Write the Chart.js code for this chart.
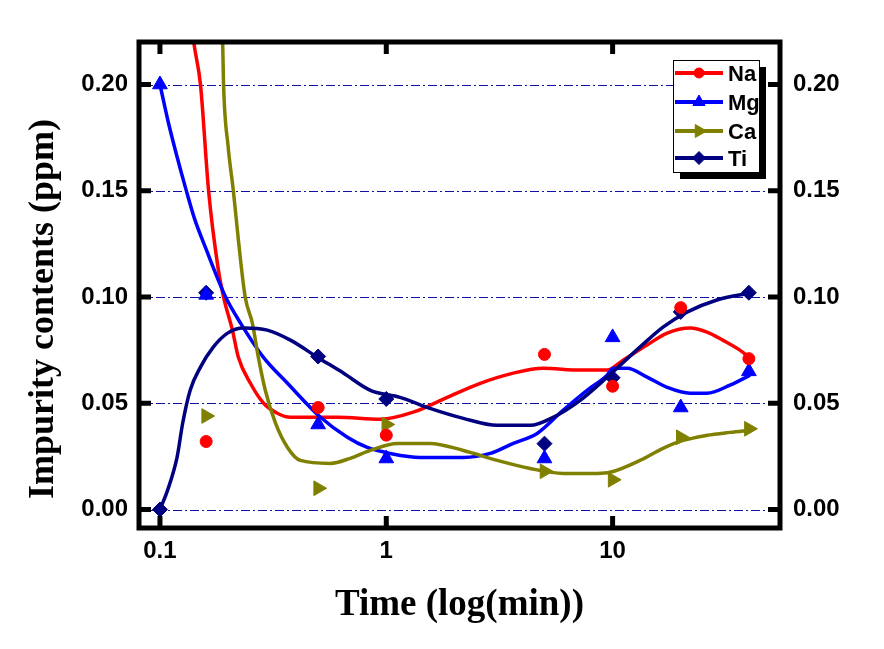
<!DOCTYPE html>
<html><head><meta charset="utf-8">
<script src="https://cdn.jsdelivr.net/npm/chart.js@4.4.0/dist/chart.umd.min.js"></script>
<style>html,body{margin:0;padding:0;background:#fff;}#wrap{width:884px;height:649px;}</style>
</head><body><div id="wrap"><canvas id="c" width="884" height="649"></canvas></div>
<script>
// ---- data ----
const seriesNames = ['Na', 'Mg', 'Ca', 'Ti'];
const seriesColors = ['#FF0000', '#0000FF', '#808000', '#000080'];
const sampleTimes = [0.1, 0.16, 0.5, 1, 5, 10, 20, 40];
const naPoints = [null, 0.032, 0.048, 0.035, 0.073, 0.058, 0.095, 0.071];
const mgPoints = [0.200, 0.101, 0.040, 0.024, 0.024, 0.081, 0.048, 0.065];
const caPoints = [null, 0.044, 0.010, 0.040, 0.018, 0.014, 0.034, 0.038];
const tiPoints = [0.000, 0.102, 0.072, 0.052, 0.031, 0.062, 0.093, 0.102];

// smoothed fit curves
const naFitX = [0.136,0.141,0.151,0.164,0.181,0.191,0.209,0.222,0.251,0.287,0.330,0.377,0.608,0.942,1.316,1.859,2.60,3.64,4.93,7.19,9.46,11.12,14.2,17.4,22.0,26.1,30.7,36.5,40.5];
const naFitY = [0.235,0.220,0.200,0.150,0.113,0.100,0.0844,0.0717,0.0594,0.0500,0.0453,0.0434,0.0434,0.0425,0.0458,0.0528,0.0594,0.0642,0.0665,0.0656,0.0656,0.0703,0.0774,0.0830,0.0854,0.0835,0.0797,0.0750,0.0712];
const mgFitX = [0.1,0.109,0.119,0.130,0.142,0.162,0.181,0.195,0.227,0.286,0.366,0.512,0.673,0.824,1.04,1.41,2.19,2.88,3.64,4.64,6.04,7.71,9.46,10.05,11.6,14.2,17.4,22.0,26.1,33.0,40.5];
const mgFitY = [0.200,0.182,0.166,0.151,0.137,0.121,0.108,0.100,0.0877,0.0717,0.0594,0.0434,0.0340,0.0292,0.0264,0.0245,0.0245,0.0264,0.0311,0.0358,0.0467,0.0561,0.0632,0.0665,0.0665,0.0623,0.0575,0.0547,0.0547,0.0585,0.0632];
const caFitX = [0.188,0.191,0.200,0.211,0.222,0.238,0.256,0.272,0.292,0.324,0.366,0.417,0.566,0.693,0.850,1.12,1.56,2.19,3.09,4.32,6.04,8.55,9.75,13.2,16.7,20.5,26.1,33.0,40.5];
const caFitY = [0.235,0.200,0.171,0.150,0.127,0.100,0.0877,0.0717,0.0561,0.0406,0.0292,0.0231,0.0217,0.0241,0.0278,0.0311,0.0311,0.0278,0.0231,0.0193,0.0170,0.0170,0.0175,0.0231,0.0288,0.0325,0.0349,0.0363,0.0373];
const tiFitX = [0.1,0.108,0.119,0.126,0.136,0.151,0.172,0.199,0.234,0.298,0.377,0.496,0.646,0.850,1.15,1.56,2.19,3.09,4.32,5.46,7.19,9.46,13.2,16.7,21.3,28.9,40.5];
const tiFitY = [0,0.0090,0.0245,0.0406,0.0561,0.0670,0.0764,0.0830,0.0854,0.0844,0.0797,0.0717,0.0642,0.0561,0.0528,0.0476,0.0429,0.0396,0.0396,0.0434,0.0514,0.0623,0.0764,0.0858,0.0929,0.0986,0.1019];

const xTickValues = [0.1, 1, 10];
const xTickLabels = ['0.1', '1', '10'];
const yTickValues = [0, 0.05, 0.10, 0.15, 0.20];
const yTickLabels = ['0.00', '0.05', '0.10', '0.15', '0.20'];
const xTitle = 'Time (log(min))';
const yTitle = 'Impurity contents (ppm)';

// ---- styles ----
const pointStyles = ['circle', 'triangle', 'triangle', 'rectRot'];
const pointRotations = [0, 0, 90, 0];
const pointRadii = [6, 8.5, 8.5, 7.5];
const legendRadii = [5, 7, 7.5, 6.5];

const pointSets = [naPoints, mgPoints, caPoints, tiPoints];
const fitSets = [[naFitX, naFitY], [mgFitX, mgFitY], [caFitX, caFitY], [tiFitX, tiFitY]];

const datasets = [];
pointSets.forEach((vals, i) => {
  datasets.push({
    label: seriesNames[i] + ' data',
    data: sampleTimes.map((t, k) => ({x: t, y: vals[k]})).filter(p => p.y !== null),
    showLine: false,
    pointStyle: pointStyles[i],
    rotation: pointRotations[i],
    pointRadius: pointRadii[i],
    backgroundColor: seriesColors[i],
    borderColor: seriesColors[i],
    pointBorderWidth: 1,
    order: 0
  });
});
fitSets.forEach((f, i) => {
  datasets.push({
    label: seriesNames[i],
    data: f[0].map((x, k) => ({x: x, y: f[1][k]})),
    showLine: true,
    pointRadius: 0,
    borderColor: seriesColors[i],
    borderWidth: 3.5,
    cubicInterpolationMode: 'monotone',
    tension: 0.4,
    fill: false,
    order: 1 + (3 - i)
  });
});

const tickFont = {family: '"Liberation Sans", Arial, sans-serif', size: 24, weight: 'bold'};

const decorPlugin = {
  id: 'decor',
  beforeDatasetsDraw(chart) {
    const {ctx, chartArea: a, scales} = chart;
    ctx.save();
    ctx.strokeStyle = '#1010A8';
    ctx.lineWidth = 1;
    ctx.setLineDash([9, 3, 2, 3]);
    yTickValues.forEach(v => {
      const y = Math.round(scales.y.getPixelForValue(v)) + 0.5;
      ctx.beginPath(); ctx.moveTo(a.left, y); ctx.lineTo(a.right, y); ctx.stroke();
    });
    ctx.restore();
  },
  afterDraw(chart) {
    const {ctx, chartArea: a, scales} = chart;
    ctx.save();
    // frame
    ctx.strokeStyle = '#000';
    ctx.lineWidth = 5;
    ctx.setLineDash([]);
    ctx.strokeRect(a.left, a.top, a.right - a.left, a.bottom - a.top);
    // inward ticks
    const tl = 12;
    xTickValues.forEach(v => {
      const x = scales.x.getPixelForValue(v);
      ctx.beginPath();
      ctx.moveTo(x, a.bottom); ctx.lineTo(x, a.bottom - tl);
      ctx.moveTo(x, a.top); ctx.lineTo(x, a.top + tl);
      ctx.stroke();
    });
    yTickValues.forEach(v => {
      const y = scales.y.getPixelForValue(v);
      ctx.beginPath();
      ctx.moveTo(a.left, y); ctx.lineTo(a.left + tl, y);
      ctx.moveTo(a.right, y); ctx.lineTo(a.right - tl, y);
      ctx.stroke();
    });
    // y title
    ctx.fillStyle = '#000';
    ctx.font = 'bold 36px "Liberation Serif", "Times New Roman", serif';
    ctx.textAlign = 'center';
    ctx.textBaseline = 'middle';
    ctx.translate(44, 309);
    ctx.rotate(-Math.PI / 2);
    ctx.fillText(yTitle, 0, 0);
    ctx.restore();

    // legend
    ctx.save();
    const lx = 673, ly = 60, lw = 86, lh = 112;
    ctx.fillStyle = '#000';
    ctx.fillRect(lx + 7, ly + 7, lw, lh);
    ctx.fillStyle = '#fff';
    ctx.fillRect(lx, ly, lw, lh);
    ctx.strokeStyle = '#000';
    ctx.lineWidth = 1;
    ctx.strokeRect(lx + 0.5, ly + 0.5, lw, lh);
    const rows = [73, 102, 131, 158];
    seriesNames.forEach((name, i) => {
      const ry = rows[i];
      ctx.strokeStyle = seriesColors[i];
      ctx.fillStyle = seriesColors[i];
      ctx.lineWidth = 4;
      ctx.beginPath(); ctx.moveTo(675, ry); ctx.lineTo(723, ry); ctx.stroke();
      ctx.lineWidth = 1;
      Chart.helpers.drawPoint(ctx, {pointStyle: pointStyles[i], radius: legendRadii[i], rotation: pointRotations[i], borderWidth: 1}, 699, ry);
      ctx.fillStyle = '#000';
      ctx.font = 'bold 22px "Liberation Sans", Arial, sans-serif';
      ctx.textAlign = 'left';
      ctx.textBaseline = 'alphabetic';
      ctx.fillText(name, 728, ry + 8);
    });
    ctx.restore();
  }
};

new Chart(document.getElementById('c'), {
  type: 'line',
  data: {datasets},
  options: {
    responsive: false,
    animation: false,
    devicePixelRatio: 1,
    layout: {padding: {top: 42, left: 0, right: 0, bottom: 0}},
    plugins: {legend: {display: false}, tooltip: {enabled: false}},
    scales: {
      x: {
        type: 'logarithmic', position: 'bottom', min: 0.0808, max: 54.9,
        afterBuildTicks: s => { s.ticks = xTickValues.map(v => ({value: v})); },
        afterFit: s => { s.height = 121; },
        ticks: {
          autoSkip: false, maxRotation: 0, padding: 9, color: '#000', font: tickFont,
          callback: (v) => { const k = xTickValues.indexOf(v); return k >= 0 ? xTickLabels[k] : ''; }
        },
        grid: {display: false, drawTicks: false},
        border: {display: false},
        title: {display: true, text: xTitle, color: '#000',
          font: {family: '"Liberation Serif", "Times New Roman", serif', size: 37, weight: 'bold'},
          padding: {top: 0, bottom: 21}}
      },
      y: {
        type: 'linear', position: 'left', min: -0.0087, max: 0.22,
        afterBuildTicks: s => { s.ticks = yTickValues.map(v => ({value: v})); },
        afterFit: s => { s.width = 139; },
        ticks: {
          padding: 11, color: '#000', font: tickFont,
          callback: (v) => { const k = yTickValues.findIndex(t => Math.abs(t - v) < 1e-9); return k >= 0 ? yTickLabels[k] : ''; }
        },
        grid: {display: false, drawTicks: false},
        border: {display: false}
      },
      y2: {
        type: 'linear', position: 'right', min: -0.0087, max: 0.22,
        afterBuildTicks: s => { s.ticks = yTickValues.map(v => ({value: v})); },
        afterFit: s => { s.width = 104; },
        ticks: {
          padding: 13, color: '#000', font: tickFont,
          callback: (v) => { const k = yTickValues.findIndex(t => Math.abs(t - v) < 1e-9); return k >= 0 ? yTickLabels[k] : ''; }
        },
        grid: {display: false, drawTicks: false},
        border: {display: false}
      }
    }
  },
  plugins: [decorPlugin]
});
</script>
</body></html>
